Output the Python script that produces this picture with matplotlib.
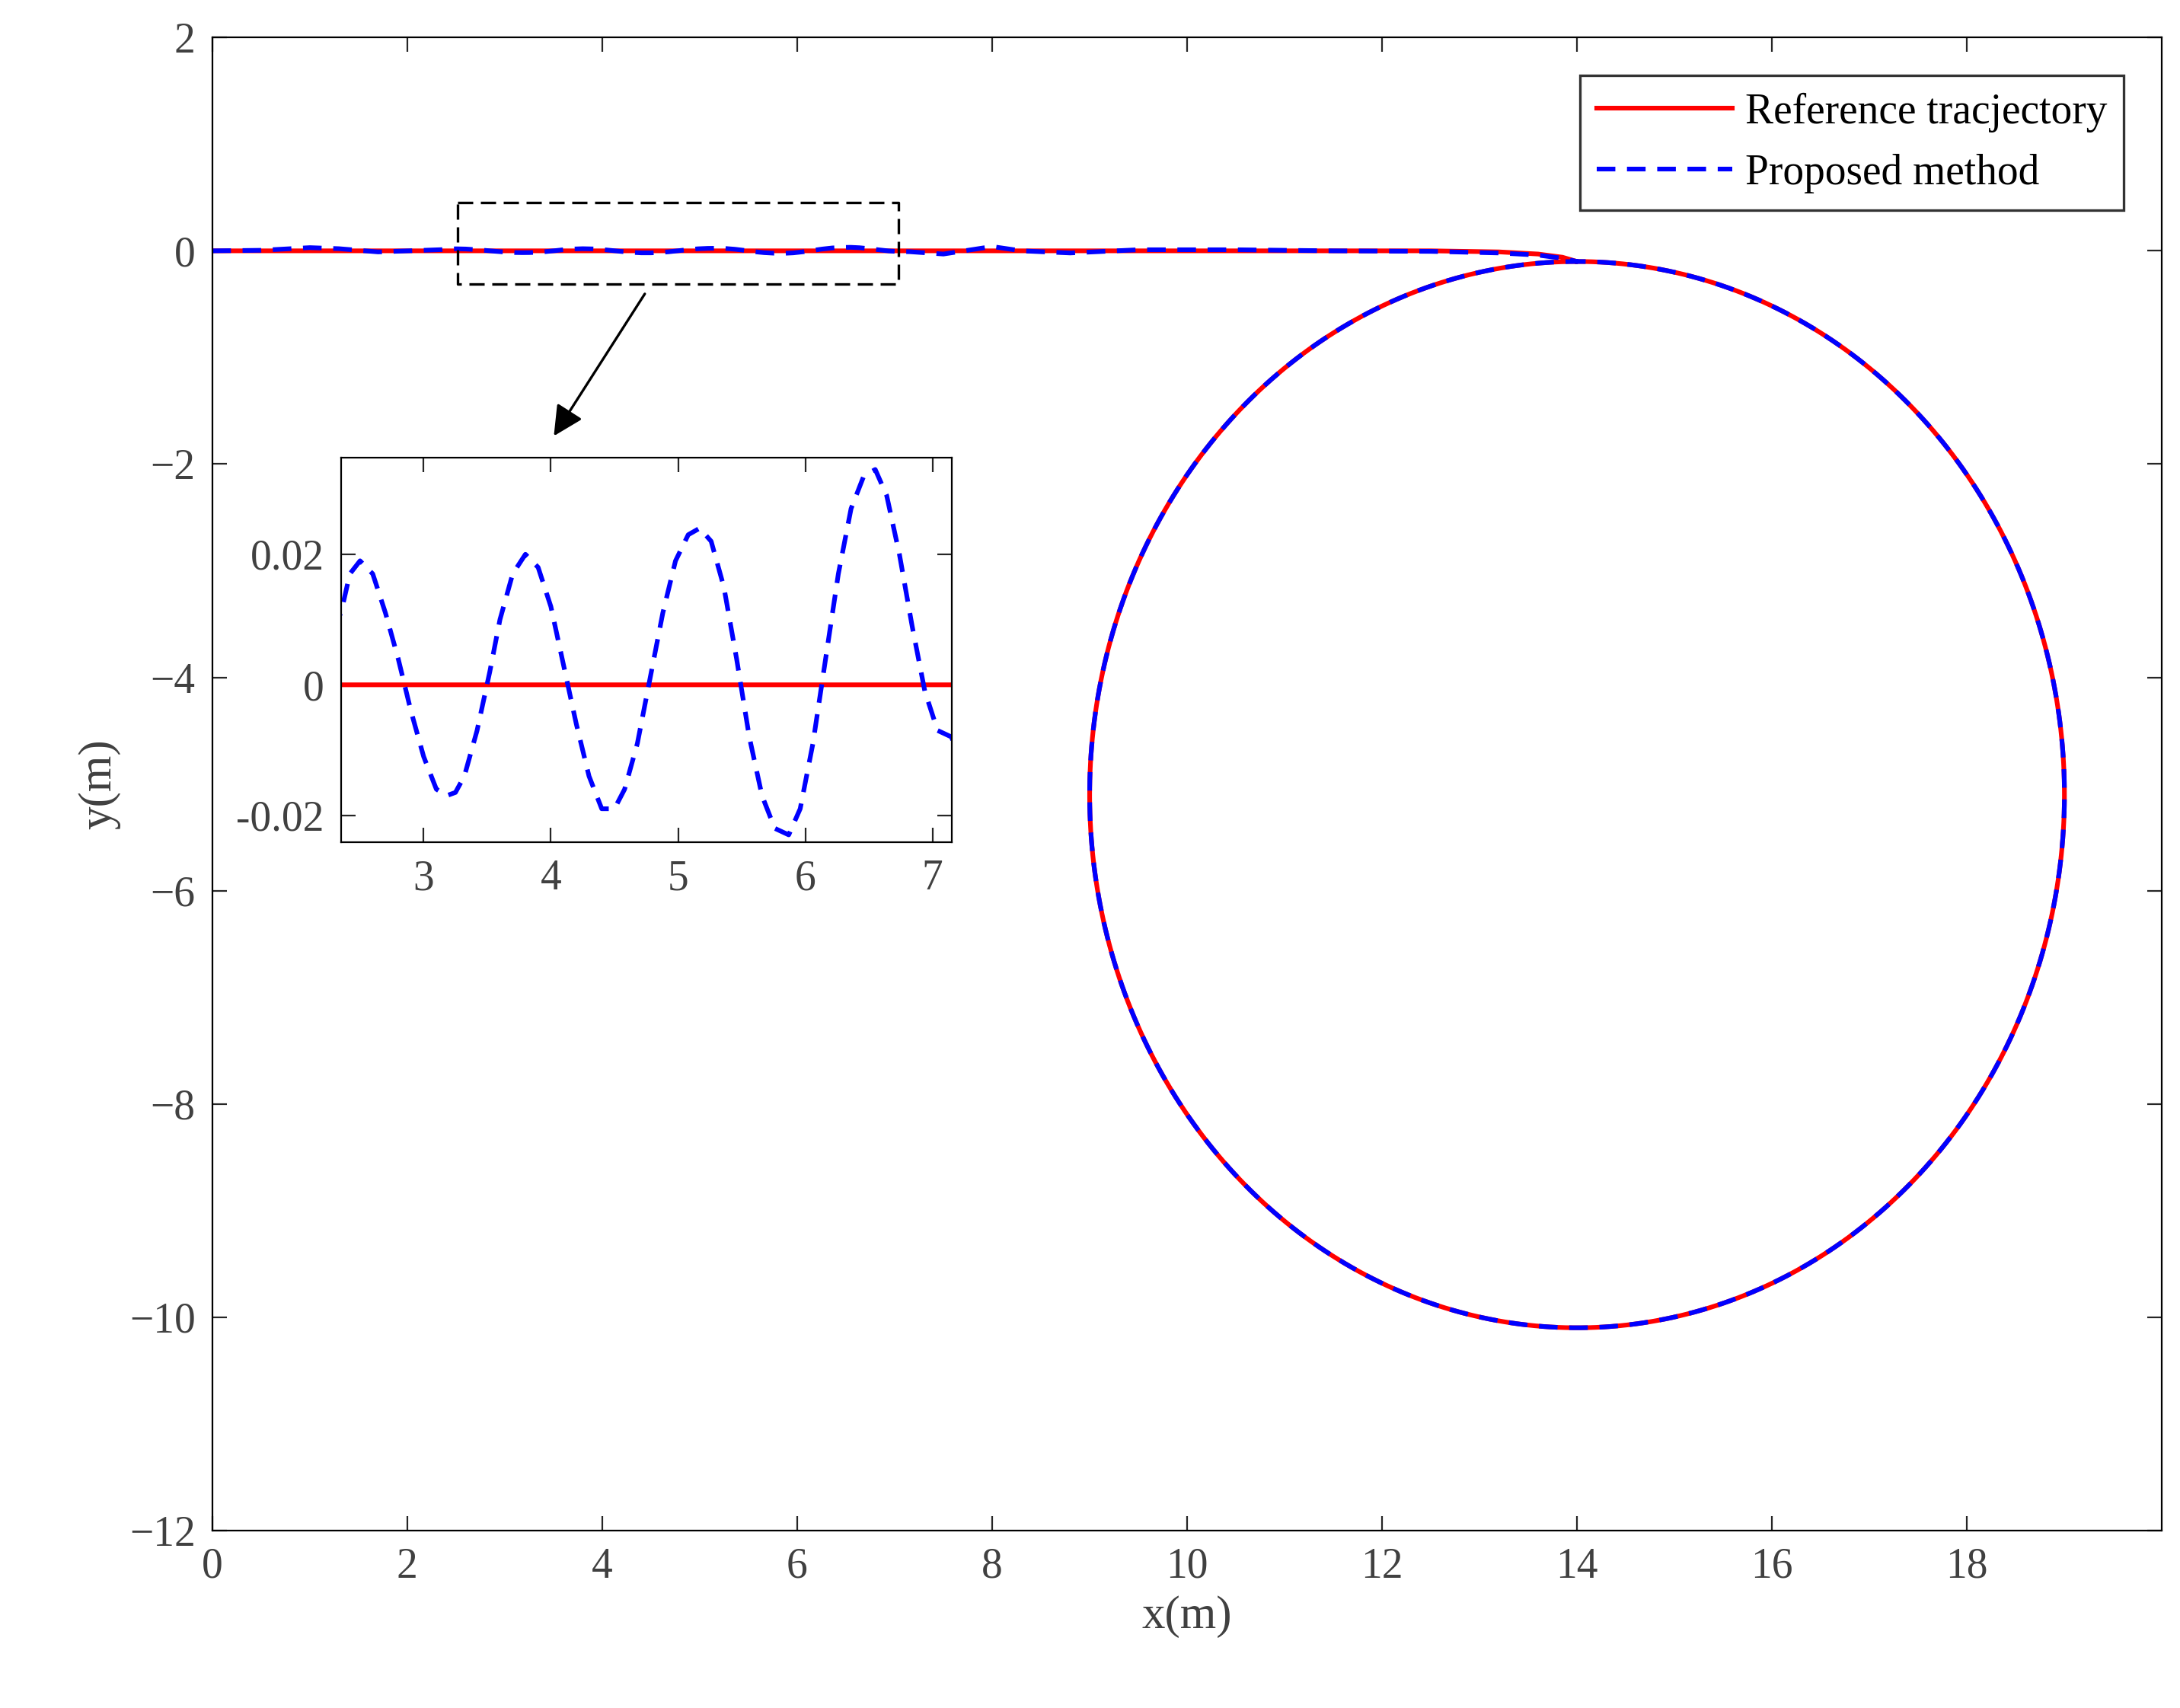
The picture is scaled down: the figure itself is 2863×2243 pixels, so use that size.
import numpy as np
import matplotlib.pyplot as plt

plt.rcParams['font.family'] = ['Liberation Serif', 'DejaVu Serif']
plt.rcParams['xtick.direction'] = 'in'
plt.rcParams['ytick.direction'] = 'in'
plt.rcParams['xtick.color'] = '#262626'
plt.rcParams['ytick.color'] = '#262626'

# straight segment of the reference
ref_line_x = [0.0, 12.5, 13.2, 13.6, 13.85, 14.0]
ref_line_y = [0.0, 0.0, -0.01, -0.03, -0.06, -0.1]
# circle part
circle_cx, circle_cy, circle_r = 14.0, -5.1, 5.0

track_x = [0.0, 0.5, 1.0, 1.3, 1.7, 2.0, 2.35, 2.42, 2.5, 2.6, 2.7, 2.8, 2.9, 3.0, 3.1,
           3.18, 3.25, 3.32, 3.42, 3.52, 3.6, 3.7, 3.8, 3.9, 4.0, 4.1, 4.2, 4.3, 4.4,
           4.5, 4.58, 4.68, 4.78, 4.88, 4.98, 5.08, 5.17, 5.26, 5.36, 5.46, 5.56, 5.66,
           5.76, 5.87, 5.96, 6.06, 6.16, 6.26, 6.36, 6.46, 6.55, 6.64, 6.74, 6.84,
           6.94, 7.04, 7.15, 7.5, 8.0, 8.3, 8.8, 9.5, 10.5, 11.5, 12.5, 13.2, 13.6,
           13.85, 14.0]
track_y = [0.0, 0.005, 0.03, 0.02, -0.01, 0.0, 0.011, 0.017, 0.019, 0.017, 0.011, 0.004,
           -0.004, -0.011, -0.016, -0.017, -0.0165, -0.014, -0.007, 0.002, 0.01, 0.017,
           0.02, 0.018, 0.012, 0.003, -0.006, -0.014, -0.019, -0.019, -0.016, -0.009,
           0.001, 0.011, 0.019, 0.023, 0.024, 0.022, 0.015, 0.004, -0.008, -0.017,
           -0.022, -0.023, -0.019, -0.009, 0.004, 0.017, 0.027, 0.032, 0.033, 0.029,
           0.02, 0.009, -0.001, -0.007, -0.008, -0.03, 0.04, 0.0, -0.02, 0.01, 0.01,
           0.0, -0.005, -0.02, -0.04, -0.07, -0.1]

fig = plt.figure(figsize=(14.315, 11.215), dpi=200)
ax = fig.add_axes([0.0974, 0.104, 0.8943, 0.874])

th = np.linspace(np.pi / 2, np.pi / 2 + 2 * np.pi, 400)
cx = circle_cx + circle_r * np.cos(th)
cy = circle_cy + circle_r * np.sin(th)

ref_x = np.concatenate([ref_line_x, cx])
ref_y = np.concatenate([ref_line_y, cy])
bx = np.concatenate([track_x, cx])
by = np.concatenate([track_y, cy])

ax.plot(ref_x, ref_y, color='red', lw=2.2, label='Reference tracjectory')
ax.plot(bx, by, color='blue', lw=2.2, ls=(0, (4, 2.5)), label='Proposed method')
ax.set_xlim(0, 20)
ax.set_ylim(-12, 2)
ax.set_xticks(range(0, 20, 2))
ax.set_yticks(range(-12, 3, 2))
ax.set_yticklabels(['\u221212', '\u221210', '\u22128', '\u22126', '\u22124', '\u22122', '0', '2'])
ax.tick_params(labelsize=20, top=True, right=True, length=7, pad=8, labelcolor='#404040')
ax.set_xlabel('x(m)', fontsize=22, color='#404040')
ax.set_ylabel('y(m)', fontsize=22, color='#404040')
leg = ax.legend(loc='upper right', fontsize=20, fancybox=False, edgecolor='black',
                handlelength=3.2, borderaxespad=0.9, handletextpad=0.3)
leg.get_frame().set_linewidth(1.2)

# zoom box and arrow
ax.plot([2.52, 7.04, 7.04, 2.52, 2.52], [0.45, 0.45, -0.31, -0.31, 0.45],
        color='black', lw=1.2, ls=(0, (6, 3)))
ax.annotate('', xy=(3.48, -1.77), xytext=(4.46, -0.37),
            arrowprops=dict(arrowstyle='-|>,head_length=1.2,head_width=0.6',
                            color='black', lw=1.2))

ins = fig.add_axes([0.1564, 0.507, 0.2801, 0.225])
ins.plot(ref_x, ref_y, color='red', lw=2.2)
ins.plot(track_x, track_y, color='blue', lw=2.2, ls=(0, (4, 2.5)))
ins.set_xlim(2.35, 7.15)
ins.set_ylim(-0.0241, 0.0348)
ins.set_xticks([3, 4, 5, 6, 7])
ins.set_yticks([-0.02, 0, 0.02])
ins.set_yticklabels(['-0.02', '0', '0.02'])
ins.tick_params(labelsize=20, top=True, right=True, length=7, pad=8, labelcolor='#404040')

fig.savefig('out.png', dpi=200)
